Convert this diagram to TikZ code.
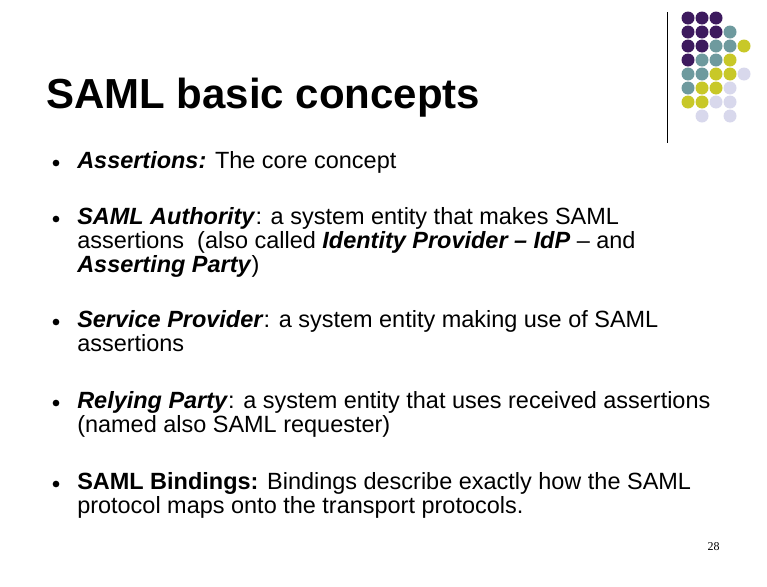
\documentclass[tikz,border=0pt]{standalone}
\usepackage{fontspec}
\setmainfont{Liberation Sans}
\newfontfamily\pgfont{Liberation Serif}
\definecolor{dP}{HTML}{3D1A5E}
\definecolor{dT}{HTML}{6E9A9E}
\definecolor{dY}{HTML}{C8C828}
\definecolor{dL}{HTML}{D8D8EC}
\begin{document}
\begin{tikzpicture}[x=0.75pt,y=-0.75pt,
  txt/.style={anchor=north west,inner sep=0pt,align=left,font=\fontsize{17.6}{18}\selectfont},
  bul/.style={circle,fill=black,inner sep=0pt,minimum size=5pt}]
\useasboundingbox (0,0) rectangle (767,586);
\draw[line width=0.75pt] (667,12) -- (667,143);
\foreach \row [count=\r] in {{P,P,P,N,N},{P,P,P,T,N},{P,P,T,T,Y},{P,T,T,Y,N},{T,T,Y,Y,L},{T,Y,Y,L,N},{Y,Y,L,L,N},{N,L,N,L,N}}{
  \foreach \c [count=\k] in \row {
    \if\c N\else \fill[d\c] ({674+14*\k},{4+14*\r}) circle (6.5);\fi
  }
}
\node[anchor=base west,inner sep=0pt,font=\fontsize{31.5}{36}\selectfont\bfseries] (title) at (46,108) {SAML basic concepts};
\foreach \y in {163,219,322,403,484} \node[bul] at (56,\y) {};
\node[txt] (b1) at (77,151) {\textbf{\textit{Assertions:}} The core concept};
\node[txt] (b2) at (77,207) {\textbf{\textit{SAML Authority}}: a system entity that makes SAML\\assertions\ \ (also called \textbf{\textit{Identity Provider – IdP}} – and\\\textbf{\textit{Asserting Party}})};
\node[txt] (b3) at (77,310) {\textbf{\textit{Service Provider}}: a system entity making use of SAML\\assertions};
\node[txt] (b4) at (77,391) {\textbf{\textit{Relying Party}}: a system entity that uses received assertions\\(named also SAML requester)};
\node[txt] (b5) at (77,472) {\textbf{SAML Bindings:} Bindings describe exactly how the SAML\\protocol maps onto the transport protocols.};
\node[anchor=base east,inner sep=0pt,font=\fontsize{9}{10}\selectfont\pgfont] (pg) at (720,550) {28};
\end{tikzpicture}
\end{document}
